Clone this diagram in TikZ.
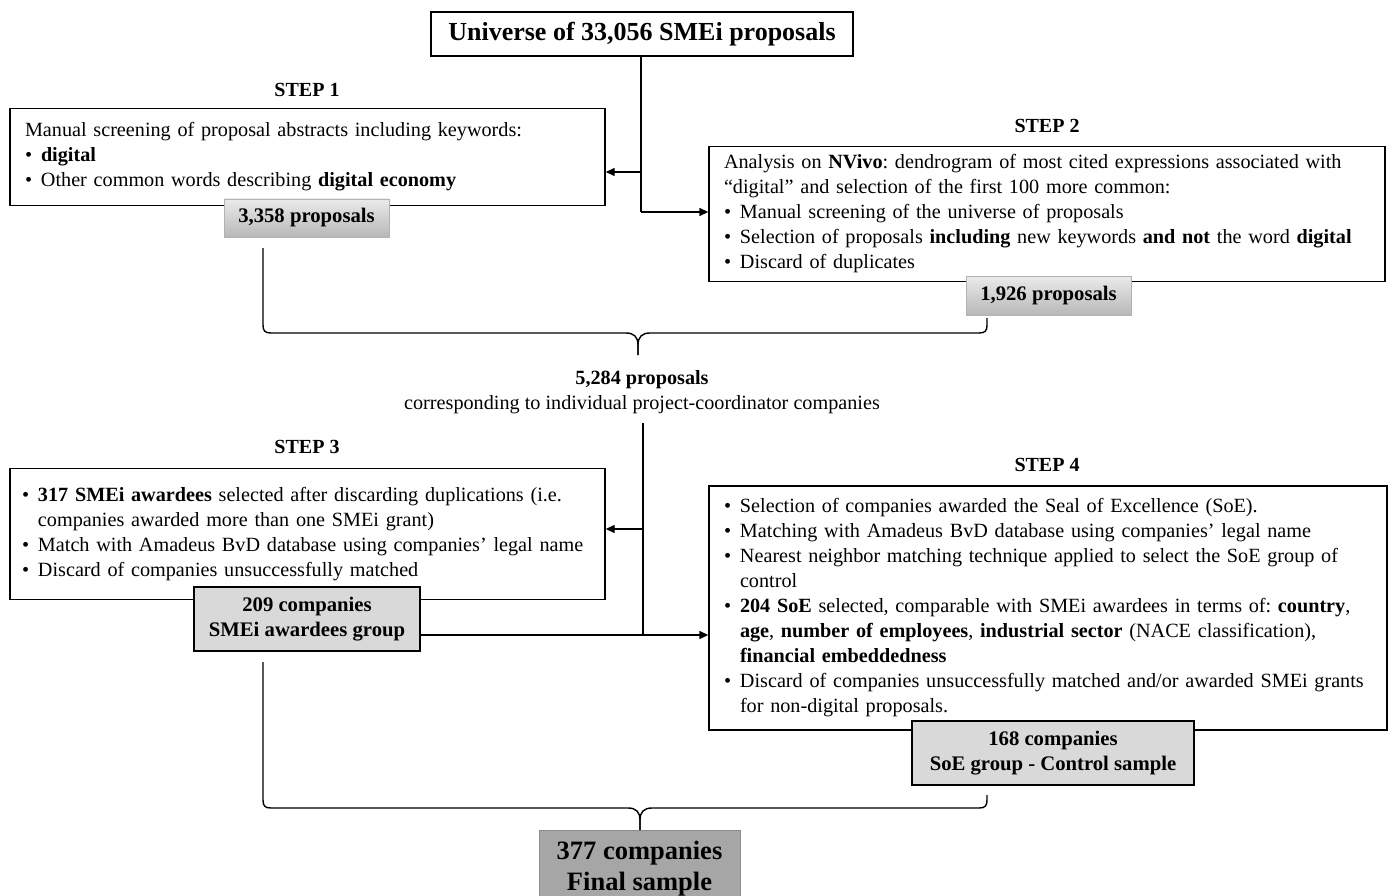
\documentclass[tikz,border=0pt]{standalone}
\usepackage{fontspec}
\setmainfont{Liberation Serif}
\usetikzlibrary{arrows.meta}
\frenchspacing
\newcommand{\bul}{\makebox[16pt][l]{\textbullet}}
\newcommand{\ind}{\hspace*{16pt}}
\begin{document}
\frenchspacing
\begin{tikzpicture}[x=1pt,y=-1pt,
  every node/.style={font=\fontsize{20.2}{25}\selectfont},
  mainbox/.style={draw, line width=1.4pt, align=left, inner xsep=15pt, inner ysep=0pt, fill=white},
  gradbox/.style={draw=black!30, line width=0.8pt, top color=black!8, bottom color=black!28, inner sep=0pt, font=\fontsize{20.7}{25}\selectfont\bfseries},
  flatbox/.style={draw, line width=1.4pt, fill=black!15, inner sep=0pt, align=center, font=\fontsize{20.7}{25}\selectfont\bfseries},
  steplabel/.style={font=\fontsize{20}{25}\selectfont\bfseries},
  conn/.style={line width=1.4pt},
  arr/.style={line width=1.4pt, -{Triangle[length=9pt,width=8pt]}}]
\useasboundingbox (0,0) rectangle (1392,896);
\clip (0,0) rectangle (1392,896);

% title
\node[draw, line width=1.4pt, minimum width=422pt, minimum height=44pt, inner sep=0pt,
  font=\fontsize{26}{30}\selectfont\bfseries] (top) at (642,34) {Universe of 33,056 SMEi proposals};

% step labels
\node[steplabel] (l1) at (307,90) {STEP 1};
\node[steplabel] (l2) at (1047,126) {STEP 2};
\node[steplabel] (l3) at (307,447) {STEP 3};
\node[steplabel] (l4) at (1047,465) {STEP 4};

% step 1
\node[mainbox, minimum width=595pt, minimum height=97pt, text width=565pt] (s1) at (307.5,157) {%
Manual screening of proposal abstracts including keywords:\\
\bul\textbf{digital}\\
\bul Other common words describing \textbf{digital economy}};

% step 2
\node[mainbox, minimum width=676pt, minimum height=135pt, text width=646pt] (s2) at (1047,214) {%
Analysis on \textbf{NVivo}: dendrogram of most cited expressions associated with\\
“digital” and selection of the first 100 more common:\\
\bul Manual screening of the universe of proposals\\
\bul Selection of proposals \textbf{including} new keywords \textbf{and not} the word \textbf{digital}\\
\bul Discard of duplicates};

% step 3
\node[mainbox, inner xsep=12pt, minimum width=595pt, minimum height=131pt, text width=571pt] (s3) at (307.5,534) {%
\bul\textbf{317 SMEi awardees} selected after discarding duplications (i.e.\\
\ind companies awarded more than one SMEi grant)\\
\bul Match with Amadeus BvD database using companies’ legal name\\
\bul Discard of companies unsuccessfully matched};

% step 4
\node[mainbox, minimum width=678pt, minimum height=244pt, text width=648pt] (s4) at (1048,608) {%
\bul Selection of companies awarded the Seal of Excellence (SoE).\\
\bul Matching with Amadeus BvD database using companies’ legal name\\
\bul Nearest neighbor matching technique applied to select the SoE group of\\
\ind control\\
\bul\textbf{204 SoE} selected, comparable with SMEi awardees in terms of: \textbf{country},\\
\ind\textbf{age}, \textbf{number of employees}, \textbf{industrial sector} (NACE classification),\\
\ind\textbf{financial embeddedness}\\
\bul Discard of companies unsuccessfully matched and/or awarded SMEi grants\\
\ind for non-digital proposals.};

% count boxes
\node[gradbox, minimum width=165pt, minimum height=38pt] (c1) at (306.5,218) {3,358 proposals};
\node[gradbox, minimum width=165pt, minimum height=39pt] (c2) at (1048.5,295.5) {1,926 proposals};
\node[flatbox, minimum width=226pt, minimum height=64pt] (c3) at (307,619) {209 companies\\SMEi awardees group};
\node[flatbox, minimum width=282pt, minimum height=64pt] (c4) at (1053,753) {168 companies\\SoE group - Control sample};

% middle text
\node[align=center] (mid) at (642,392) {\textbf{5,284 proposals}\\corresponding to individual project-coordinator companies};

% final box
\node[draw=black!45, line width=1pt, fill=black!35, minimum width=201pt, minimum height=78pt, inner sep=0pt,
  align=center, font=\fontsize{26.5}{31}\selectfont\bfseries] (fin) at (639.5,869) {377 companies\\Final sample};

% connectors top
\coordinate (j1) at (641,172);
\coordinate (j2) at (641,212);
\draw[conn] (top.south -| j1) -- (j2);
\draw[arr] (j1) -- (s1.east |- j1);
\draw[arr] (j2) -- (s2.west |- j2);

% brace 1
\coordinate (b1l) at (263,248);
\coordinate (b1r) at (987,318);
\coordinate (b1m) at (638,355);
\draw[conn] (b1l) -- (263,325) .. controls (263,331) and (265,333) .. (271,333) -- (626,333)
  .. controls (634,333) and (638,337) .. (638,345) -- (b1m);
\draw[conn] (b1m) -- (638,345) .. controls (638,337) and (642,333) .. (650,333) -- (979,333)
  .. controls (985,333) and (987,331) .. (987,325) -- (b1r);

% connectors middle
\coordinate (k0) at (643,423);
\coordinate (k1) at (643,529);
\coordinate (k2) at (643,635);
\draw[conn] (k0) -- (k2);
\draw[arr] (k1) -- (s3.east |- k1);
\draw[arr] (c3.east |- k2) -- (s4.west |- k2);

% brace 2
\coordinate (b2l) at (263,662);
\coordinate (b2r) at (987,795);
\coordinate (b2m) at (640,830);
\draw[conn] (b2l) -- (263,800) .. controls (263,806) and (265,808) .. (271,808) -- (628,808)
  .. controls (636,808) and (640,812) .. (640,820) -- (b2m);
\draw[conn] (b2m) -- (640,820) .. controls (640,812) and (644,808) .. (652,808) -- (979,808)
  .. controls (985,808) and (987,806) .. (987,800) -- (b2r);
\end{tikzpicture}
\end{document}
